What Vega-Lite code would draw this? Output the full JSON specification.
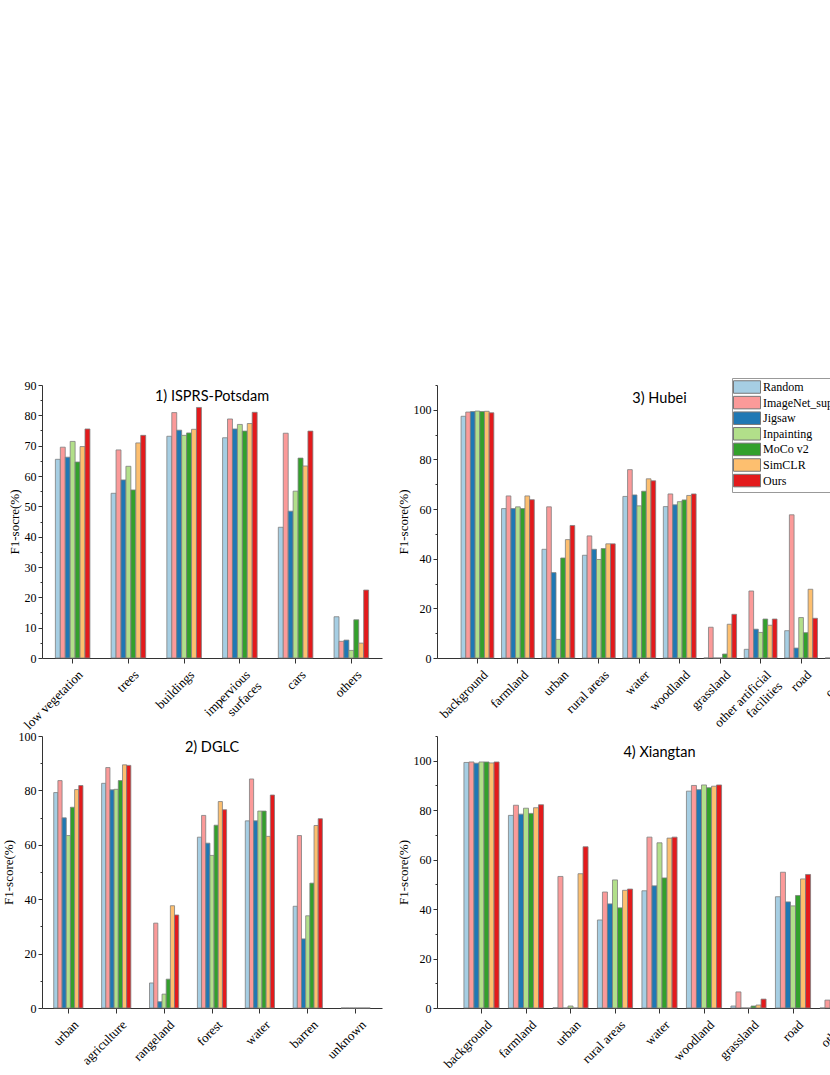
{
  "$schema": "https://vega.github.io/schema/vega-lite/v6.json",
  "padding": {"left": 2, "top": 377, "right": 5, "bottom": 5},
  "background": "white",
  "bounds": "flush",
  "columns": 2,
  "spacing": {"row": 78, "column": 55},
  "config": {
    "view": {"stroke": null},
    "axis": {"grid": false, "labelFont": "Liberation Serif", "titleFont": "Liberation Serif", "labelColor": "#000", "titleColor": "#000", "titleFontWeight": "normal", "domainColor": "#333", "tickColor": "#333", "domainWidth": 1, "tickWidth": 1},
    "title": {"font": "Lato", "fontSize": 14.5, "fontWeight": "normal", "color": "#000"}
  },
  "datasets": {
    "potsdam": [
      {"c": "low vegetation", "m": "Random", "v": 65.5}, {"c": "low vegetation", "m": "ImageNet_sup", "v": 69.5}, {"c": "low vegetation", "m": "Jigsaw", "v": 66.2}, {"c": "low vegetation", "m": "Inpainting", "v": 71.4}, {"c": "low vegetation", "m": "MoCo v2", "v": 64.6}, {"c": "low vegetation", "m": "SimCLR", "v": 69.7}, {"c": "low vegetation", "m": "Ours", "v": 75.5},
      {"c": "trees", "m": "Random", "v": 54.3}, {"c": "trees", "m": "ImageNet_sup", "v": 68.6}, {"c": "trees", "m": "Jigsaw", "v": 58.7}, {"c": "trees", "m": "Inpainting", "v": 63.2}, {"c": "trees", "m": "MoCo v2", "v": 55.4}, {"c": "trees", "m": "SimCLR", "v": 70.9}, {"c": "trees", "m": "Ours", "v": 73.4},
      {"c": "buildings", "m": "Random", "v": 73.1}, {"c": "buildings", "m": "ImageNet_sup", "v": 80.9}, {"c": "buildings", "m": "Jigsaw", "v": 75.1}, {"c": "buildings", "m": "Inpainting", "v": 73.4}, {"c": "buildings", "m": "MoCo v2", "v": 74.2}, {"c": "buildings", "m": "SimCLR", "v": 75.4}, {"c": "buildings", "m": "Ours", "v": 82.6},
      {"c": "impervious surfaces", "m": "Random", "v": 72.6}, {"c": "impervious surfaces", "m": "ImageNet_sup", "v": 78.8}, {"c": "impervious surfaces", "m": "Jigsaw", "v": 75.5}, {"c": "impervious surfaces", "m": "Inpainting", "v": 77.0}, {"c": "impervious surfaces", "m": "MoCo v2", "v": 74.8}, {"c": "impervious surfaces", "m": "SimCLR", "v": 77.3}, {"c": "impervious surfaces", "m": "Ours", "v": 81.0},
      {"c": "cars", "m": "Random", "v": 43.1}, {"c": "cars", "m": "ImageNet_sup", "v": 74.1}, {"c": "cars", "m": "Jigsaw", "v": 48.4}, {"c": "cars", "m": "Inpainting", "v": 55.0}, {"c": "cars", "m": "MoCo v2", "v": 65.9}, {"c": "cars", "m": "SimCLR", "v": 63.3}, {"c": "cars", "m": "Ours", "v": 74.8},
      {"c": "others", "m": "Random", "v": 13.6}, {"c": "others", "m": "ImageNet_sup", "v": 5.5}, {"c": "others", "m": "Jigsaw", "v": 5.9}, {"c": "others", "m": "Inpainting", "v": 2.5}, {"c": "others", "m": "MoCo v2", "v": 12.6}, {"c": "others", "m": "SimCLR", "v": 4.9}, {"c": "others", "m": "Ours", "v": 22.4}
    ],
    "hubei": [
      {"c": "background", "m": "Random", "v": 97.4}, {"c": "background", "m": "ImageNet_sup", "v": 99.1}, {"c": "background", "m": "Jigsaw", "v": 99.3}, {"c": "background", "m": "Inpainting", "v": 99.5}, {"c": "background", "m": "MoCo v2", "v": 99.3}, {"c": "background", "m": "SimCLR", "v": 99.4}, {"c": "background", "m": "Ours", "v": 98.8},
      {"c": "farmland", "m": "Random", "v": 60.2}, {"c": "farmland", "m": "ImageNet_sup", "v": 65.3}, {"c": "farmland", "m": "Jigsaw", "v": 60.2}, {"c": "farmland", "m": "Inpainting", "v": 60.9}, {"c": "farmland", "m": "MoCo v2", "v": 60.2}, {"c": "farmland", "m": "SimCLR", "v": 65.3}, {"c": "farmland", "m": "Ours", "v": 63.8},
      {"c": "urban", "m": "Random", "v": 43.8}, {"c": "urban", "m": "ImageNet_sup", "v": 60.9}, {"c": "urban", "m": "Jigsaw", "v": 34.4}, {"c": "urban", "m": "Inpainting", "v": 7.5}, {"c": "urban", "m": "MoCo v2", "v": 40.3}, {"c": "urban", "m": "SimCLR", "v": 47.7}, {"c": "urban", "m": "Ours", "v": 53.4},
      {"c": "rural areas", "m": "Random", "v": 41.4}, {"c": "rural areas", "m": "ImageNet_sup", "v": 49.2}, {"c": "rural areas", "m": "Jigsaw", "v": 43.8}, {"c": "rural areas", "m": "Inpainting", "v": 39.7}, {"c": "rural areas", "m": "MoCo v2", "v": 44.1}, {"c": "rural areas", "m": "SimCLR", "v": 46.0}, {"c": "rural areas", "m": "Ours", "v": 46.0},
      {"c": "water", "m": "Random", "v": 65.1}, {"c": "water", "m": "ImageNet_sup", "v": 75.9}, {"c": "water", "m": "Jigsaw", "v": 65.7}, {"c": "water", "m": "Inpainting", "v": 61.3}, {"c": "water", "m": "MoCo v2", "v": 67.2}, {"c": "water", "m": "SimCLR", "v": 72.2}, {"c": "water", "m": "Ours", "v": 71.4},
      {"c": "woodland", "m": "Random", "v": 61.0}, {"c": "woodland", "m": "ImageNet_sup", "v": 66.1}, {"c": "woodland", "m": "Jigsaw", "v": 61.7}, {"c": "woodland", "m": "Inpainting", "v": 63.0}, {"c": "woodland", "m": "MoCo v2", "v": 63.7}, {"c": "woodland", "m": "SimCLR", "v": 65.5}, {"c": "woodland", "m": "Ours", "v": 66.1},
      {"c": "grassland", "m": "Random", "v": 0}, {"c": "grassland", "m": "ImageNet_sup", "v": 12.4}, {"c": "grassland", "m": "Jigsaw", "v": 0}, {"c": "grassland", "m": "Inpainting", "v": 0}, {"c": "grassland", "m": "MoCo v2", "v": 1.6}, {"c": "grassland", "m": "SimCLR", "v": 13.6}, {"c": "grassland", "m": "Ours", "v": 17.6},
      {"c": "other artificial facilities", "m": "Random", "v": 3.5}, {"c": "other artificial facilities", "m": "ImageNet_sup", "v": 27.0}, {"c": "other artificial facilities", "m": "Jigsaw", "v": 11.6}, {"c": "other artificial facilities", "m": "Inpainting", "v": 10.3}, {"c": "other artificial facilities", "m": "MoCo v2", "v": 15.7}, {"c": "other artificial facilities", "m": "SimCLR", "v": 13.2}, {"c": "other artificial facilities", "m": "Ours", "v": 15.7},
      {"c": "road", "m": "Random", "v": 11.0}, {"c": "road", "m": "ImageNet_sup", "v": 57.7}, {"c": "road", "m": "Jigsaw", "v": 4.0}, {"c": "road", "m": "Inpainting", "v": 16.3}, {"c": "road", "m": "MoCo v2", "v": 10.2}, {"c": "road", "m": "SimCLR", "v": 27.7}, {"c": "road", "m": "Ours", "v": 16.0},
      {"c": "others", "m": "Random", "v": 0}, {"c": "others", "m": "ImageNet_sup", "v": 0}, {"c": "others", "m": "Jigsaw", "v": 0}, {"c": "others", "m": "Inpainting", "v": 0}, {"c": "others", "m": "MoCo v2", "v": 0}, {"c": "others", "m": "SimCLR", "v": 1.5}, {"c": "others", "m": "Ours", "v": 2.5}
    ],
    "dglc": [
      {"c": "urban", "m": "Random", "v": 79.2}, {"c": "urban", "m": "ImageNet_sup", "v": 83.6}, {"c": "urban", "m": "Jigsaw", "v": 69.9}, {"c": "urban", "m": "Inpainting", "v": 63.4}, {"c": "urban", "m": "MoCo v2", "v": 73.8}, {"c": "urban", "m": "SimCLR", "v": 80.3}, {"c": "urban", "m": "Ours", "v": 81.8},
      {"c": "agriculture", "m": "Random", "v": 82.6}, {"c": "agriculture", "m": "ImageNet_sup", "v": 88.4}, {"c": "agriculture", "m": "Jigsaw", "v": 80.2}, {"c": "agriculture", "m": "Inpainting", "v": 80.4}, {"c": "agriculture", "m": "MoCo v2", "v": 83.6}, {"c": "agriculture", "m": "SimCLR", "v": 89.4}, {"c": "agriculture", "m": "Ours", "v": 89.2},
      {"c": "rangeland", "m": "Random", "v": 9.2}, {"c": "rangeland", "m": "ImageNet_sup", "v": 31.2}, {"c": "rangeland", "m": "Jigsaw", "v": 2.3}, {"c": "rangeland", "m": "Inpainting", "v": 5.1}, {"c": "rangeland", "m": "MoCo v2", "v": 10.6}, {"c": "rangeland", "m": "SimCLR", "v": 37.6}, {"c": "rangeland", "m": "Ours", "v": 34.2},
      {"c": "forest", "m": "Random", "v": 62.8}, {"c": "forest", "m": "ImageNet_sup", "v": 70.8}, {"c": "forest", "m": "Jigsaw", "v": 60.6}, {"c": "forest", "m": "Inpainting", "v": 56.1}, {"c": "forest", "m": "MoCo v2", "v": 67.2}, {"c": "forest", "m": "SimCLR", "v": 75.9}, {"c": "forest", "m": "Ours", "v": 72.9},
      {"c": "water", "m": "Random", "v": 68.8}, {"c": "water", "m": "ImageNet_sup", "v": 84.2}, {"c": "water", "m": "Jigsaw", "v": 68.8}, {"c": "water", "m": "Inpainting", "v": 72.4}, {"c": "water", "m": "MoCo v2", "v": 72.4}, {"c": "water", "m": "SimCLR", "v": 63.1}, {"c": "water", "m": "Ours", "v": 78.3},
      {"c": "barren", "m": "Random", "v": 37.4}, {"c": "barren", "m": "ImageNet_sup", "v": 63.4}, {"c": "barren", "m": "Jigsaw", "v": 25.4}, {"c": "barren", "m": "Inpainting", "v": 33.9}, {"c": "barren", "m": "MoCo v2", "v": 45.9}, {"c": "barren", "m": "SimCLR", "v": 67.1}, {"c": "barren", "m": "Ours", "v": 69.6},
      {"c": "unknown", "m": "Random", "v": 0}, {"c": "unknown", "m": "ImageNet_sup", "v": 0}, {"c": "unknown", "m": "Jigsaw", "v": 0}, {"c": "unknown", "m": "Inpainting", "v": 0}, {"c": "unknown", "m": "MoCo v2", "v": 0}, {"c": "unknown", "m": "SimCLR", "v": 0}, {"c": "unknown", "m": "Ours", "v": 0}
    ],
    "xiangtan": [
      {"c": "background", "m": "Random", "v": 99.3}, {"c": "background", "m": "ImageNet_sup", "v": 99.5}, {"c": "background", "m": "Jigsaw", "v": 99.0}, {"c": "background", "m": "Inpainting", "v": 99.5}, {"c": "background", "m": "MoCo v2", "v": 99.5}, {"c": "background", "m": "SimCLR", "v": 99.1}, {"c": "background", "m": "Ours", "v": 99.5},
      {"c": "farmland", "m": "Random", "v": 77.9}, {"c": "farmland", "m": "ImageNet_sup", "v": 82.0}, {"c": "farmland", "m": "Jigsaw", "v": 78.4}, {"c": "farmland", "m": "Inpainting", "v": 80.8}, {"c": "farmland", "m": "MoCo v2", "v": 78.7}, {"c": "farmland", "m": "SimCLR", "v": 81.0}, {"c": "farmland", "m": "Ours", "v": 82.2},
      {"c": "urban", "m": "Random", "v": 0.1}, {"c": "urban", "m": "ImageNet_sup", "v": 53.2}, {"c": "urban", "m": "Jigsaw", "v": 0}, {"c": "urban", "m": "Inpainting", "v": 0.8}, {"c": "urban", "m": "MoCo v2", "v": 0}, {"c": "urban", "m": "SimCLR", "v": 54.3}, {"c": "urban", "m": "Ours", "v": 65.2},
      {"c": "rural areas", "m": "Random", "v": 35.6}, {"c": "rural areas", "m": "ImageNet_sup", "v": 46.9}, {"c": "rural areas", "m": "Jigsaw", "v": 42.1}, {"c": "rural areas", "m": "Inpainting", "v": 51.8}, {"c": "rural areas", "m": "MoCo v2", "v": 40.5}, {"c": "rural areas", "m": "SimCLR", "v": 47.6}, {"c": "rural areas", "m": "Ours", "v": 48.1},
      {"c": "water", "m": "Random", "v": 47.4}, {"c": "water", "m": "ImageNet_sup", "v": 69.1}, {"c": "water", "m": "Jigsaw", "v": 49.4}, {"c": "water", "m": "Inpainting", "v": 66.8}, {"c": "water", "m": "MoCo v2", "v": 52.6}, {"c": "water", "m": "SimCLR", "v": 68.7}, {"c": "water", "m": "Ours", "v": 69.1},
      {"c": "woodland", "m": "Random", "v": 87.7}, {"c": "woodland", "m": "ImageNet_sup", "v": 90.0}, {"c": "woodland", "m": "Jigsaw", "v": 88.3}, {"c": "woodland", "m": "Inpainting", "v": 90.2}, {"c": "woodland", "m": "MoCo v2", "v": 89.1}, {"c": "woodland", "m": "SimCLR", "v": 89.7}, {"c": "woodland", "m": "Ours", "v": 90.2},
      {"c": "grassland", "m": "Random", "v": 0.8}, {"c": "grassland", "m": "ImageNet_sup", "v": 6.5}, {"c": "grassland", "m": "Jigsaw", "v": 0}, {"c": "grassland", "m": "Inpainting", "v": 0}, {"c": "grassland", "m": "MoCo v2", "v": 0.8}, {"c": "grassland", "m": "SimCLR", "v": 1.2}, {"c": "grassland", "m": "Ours", "v": 3.6},
      {"c": "road", "m": "Random", "v": 45.0}, {"c": "road", "m": "ImageNet_sup", "v": 54.9}, {"c": "road", "m": "Jigsaw", "v": 42.9}, {"c": "road", "m": "Inpainting", "v": 41.3}, {"c": "road", "m": "MoCo v2", "v": 45.5}, {"c": "road", "m": "SimCLR", "v": 52.2}, {"c": "road", "m": "Ours", "v": 54.0},
      {"c": "others", "m": "Random", "v": 0}, {"c": "others", "m": "ImageNet_sup", "v": 3.2}, {"c": "others", "m": "Jigsaw", "v": 0}, {"c": "others", "m": "Inpainting", "v": 0}, {"c": "others", "m": "MoCo v2", "v": 0}, {"c": "others", "m": "SimCLR", "v": 1.0}, {"c": "others", "m": "Ours", "v": 2.0}
    ]
  },
  "resolve": {"scale": {"x": "independent", "y": "independent", "xOffset": "independent", "color": "independent"}, "legend": {"color": "independent"}, "axis": {"x": "independent", "y": "independent"}},
  "concat": [
    {
      "width": 340, "height": 273,
      "data": {"name": "potsdam"},
      "title": {"text": "1) ISPRS-Potsdam", "frame": "group", "anchor": "middle", "baseline": "middle", "offset": -32},
      "mark": {"type": "bar", "stroke": "#7f7f7f", "strokeWidth": 0.8},
      "encoding": {
        "x": {"field": "c", "type": "nominal", "sort": null, "scale": {"domain": ["low vegetation", "trees", "buildings", "impervious surfaces", "cars", "others"], "paddingInner": 0.38, "paddingOuter": 0.24},
          "axis": {"title": null, "labelAngle": -45, "labelAlign": "right", "labelBaseline": "top", "labelFontSize": 13, "labelOffset": 4, "labelPadding": 5, "tickSize": 5, "labelLineHeight": 16, "labelExpr": "datum.label === 'impervious surfaces' ? ['impervious', 'surfaces'] : datum.label"}},
        "xOffset": {"field": "m", "type": "nominal", "sort": null, "scale": {"domain": ["Random", "ImageNet_sup", "Jigsaw", "Inpainting", "MoCo v2", "SimCLR", "Ours"], "paddingInner": 0, "paddingOuter": 0}},
        "y": {"field": "v", "type": "quantitative", "scale": {"domain": [0, 90], "nice": false},
          "axis": {"title": "F1-socre(%)", "titleFontSize": 13, "titlePadding": 3, "labelFontSize": 12, "labelPadding": 2, "values": [0, 5, 10, 15, 20, 25, 30, 35, 40, 45, 50, 55, 60, 65, 70, 75, 80, 85, 90], "labelExpr": "datum.value % 10 === 0 ? datum.label : ''", "tickSize": {"condition": {"test": "datum.value % 10 === 0", "value": 4}, "value": 2}}},
        "color": {"field": "m", "type": "nominal", "sort": null, "scale": {"domain": ["Random", "ImageNet_sup", "Jigsaw", "Inpainting", "MoCo v2", "SimCLR", "Ours"], "range": ["#a6cee3", "#fb9a99", "#1f78b4", "#b2df8a", "#33a02c", "#fdbf6f", "#e31a1c"]}, "legend": null}
      }
    },
    {
      "width": 445, "height": 273,
      "data": {"name": "hubei"},
      "title": {"text": "3) Hubei", "frame": "group", "anchor": "middle", "baseline": "middle", "offset": -36},
      "mark": {"type": "bar", "stroke": "#7f7f7f", "strokeWidth": 0.8},
      "encoding": {
        "x": {"field": "c", "type": "nominal", "sort": null, "scale": {"domain": ["background", "farmland", "urban", "rural areas", "water", "woodland", "grassland", "other artificial facilities", "road", "others"], "paddingInner": 0.19, "paddingOuter": 0.595},
          "axis": {"title": null, "labelAngle": -45, "labelAlign": "right", "labelBaseline": "top", "labelFontSize": 13, "labelOffset": 4, "labelPadding": 5, "tickSize": 5, "labelLineHeight": 16, "labelExpr": "datum.label === 'other artificial facilities' ? ['other artificial', 'facilities'] : datum.label"}},
        "xOffset": {"field": "m", "type": "nominal", "sort": null, "scale": {"domain": ["Random", "ImageNet_sup", "Jigsaw", "Inpainting", "MoCo v2", "SimCLR", "Ours"], "paddingInner": 0, "paddingOuter": 0}},
        "y": {"field": "v", "type": "quantitative", "scale": {"domain": [0, 110], "nice": false},
          "axis": {"title": "F1-score(%)", "titleFontSize": 13, "titlePadding": 3, "labelFontSize": 12, "labelPadding": 2, "values": [0, 10, 20, 30, 40, 50, 60, 70, 80, 90, 100, 110], "labelExpr": "datum.value % 20 === 0 ? datum.label : ''", "tickSize": {"condition": {"test": "datum.value % 20 === 0", "value": 4}, "value": 2}}},
        "color": {"field": "m", "type": "nominal", "sort": null, "scale": {"domain": ["Random", "ImageNet_sup", "Jigsaw", "Inpainting", "MoCo v2", "SimCLR", "Ours"], "range": ["#a6cee3", "#fb9a99", "#1f78b4", "#b2df8a", "#33a02c", "#fdbf6f", "#e31a1c"]},
          "legend": {"orient": "none", "legendX": 295, "legendY": -7, "title": null, "symbolType": "M-2.7,-1.25H2.7V1.25H-2.7Z", "symbolSize": 100, "symbolStrokeColor": "#777", "symbolStrokeWidth": 1, "symbolOpacity": 1, "labelFont": "Liberation Serif", "labelFontSize": 12, "labelColor": "#000", "strokeColor": "#999", "fillColor": "white", "padding": 3, "rowPadding": -2.4, "labelOffset": 10, "symbolOffset": 6}}
      }
    },
    {
      "width": 340, "height": 272,
      "data": {"name": "dglc"},
      "title": {"text": "2) DGLC", "frame": "group", "anchor": "middle", "baseline": "middle", "offset": -32},
      "mark": {"type": "bar", "stroke": "#7f7f7f", "strokeWidth": 0.8},
      "encoding": {
        "x": {"field": "c", "type": "nominal", "sort": null, "scale": {"domain": ["urban", "agriculture", "rangeland", "forest", "water", "barren", "unknown"], "paddingInner": 0.39, "paddingOuter": 0.245},
          "axis": {"title": null, "labelAngle": -45, "labelAlign": "right", "labelBaseline": "top", "labelFontSize": 13, "labelOffset": 4, "labelPadding": 5, "tickSize": 5}},
        "xOffset": {"field": "m", "type": "nominal", "sort": null, "scale": {"domain": ["Random", "ImageNet_sup", "Jigsaw", "Inpainting", "MoCo v2", "SimCLR", "Ours"], "paddingInner": 0, "paddingOuter": 0}},
        "y": {"field": "v", "type": "quantitative", "scale": {"domain": [0, 100], "nice": false},
          "axis": {"title": "F1-score(%)", "titleFontSize": 13, "titlePadding": 3, "labelFontSize": 12, "labelPadding": 2, "values": [0, 10, 20, 30, 40, 50, 60, 70, 80, 90, 100], "labelExpr": "datum.value % 20 === 0 ? datum.label : ''", "tickSize": {"condition": {"test": "datum.value % 20 === 0", "value": 4}, "value": 2}}},
        "color": {"field": "m", "type": "nominal", "sort": null, "scale": {"domain": ["Random", "ImageNet_sup", "Jigsaw", "Inpainting", "MoCo v2", "SimCLR", "Ours"], "range": ["#a6cee3", "#fb9a99", "#1f78b4", "#b2df8a", "#33a02c", "#fdbf6f", "#e31a1c"]}, "legend": null}
      }
    },
    {
      "width": 445, "height": 272,
      "data": {"name": "xiangtan"},
      "title": {"text": "4) Xiangtan", "frame": "group", "anchor": "middle", "baseline": "middle", "offset": -32},
      "mark": {"type": "bar", "stroke": "#7f7f7f", "strokeWidth": 0.8},
      "encoding": {
        "x": {"field": "c", "type": "nominal", "sort": null, "scale": {"domain": ["background", "farmland", "urban", "rural areas", "water", "woodland", "grassland", "road", "others"], "paddingInner": 0.21, "paddingOuter": 0.605},
          "axis": {"title": null, "labelAngle": -45, "labelAlign": "right", "labelBaseline": "top", "labelFontSize": 13, "labelOffset": 4, "labelPadding": 5, "tickSize": 5}},
        "xOffset": {"field": "m", "type": "nominal", "sort": null, "scale": {"domain": ["Random", "ImageNet_sup", "Jigsaw", "Inpainting", "MoCo v2", "SimCLR", "Ours"], "paddingInner": 0, "paddingOuter": 0}},
        "y": {"field": "v", "type": "quantitative", "scale": {"domain": [0, 110], "nice": false},
          "axis": {"title": "F1-score(%)", "titleFontSize": 13, "titlePadding": 3, "labelFontSize": 12, "labelPadding": 2, "values": [0, 10, 20, 30, 40, 50, 60, 70, 80, 90, 100, 110], "labelExpr": "datum.value % 20 === 0 ? datum.label : ''", "tickSize": {"condition": {"test": "datum.value % 20 === 0", "value": 4}, "value": 2}}},
        "color": {"field": "m", "type": "nominal", "sort": null, "scale": {"domain": ["Random", "ImageNet_sup", "Jigsaw", "Inpainting", "MoCo v2", "SimCLR", "Ours"], "range": ["#a6cee3", "#fb9a99", "#1f78b4", "#b2df8a", "#33a02c", "#fdbf6f", "#e31a1c"]}, "legend": null}
      }
    }
  ]
}
